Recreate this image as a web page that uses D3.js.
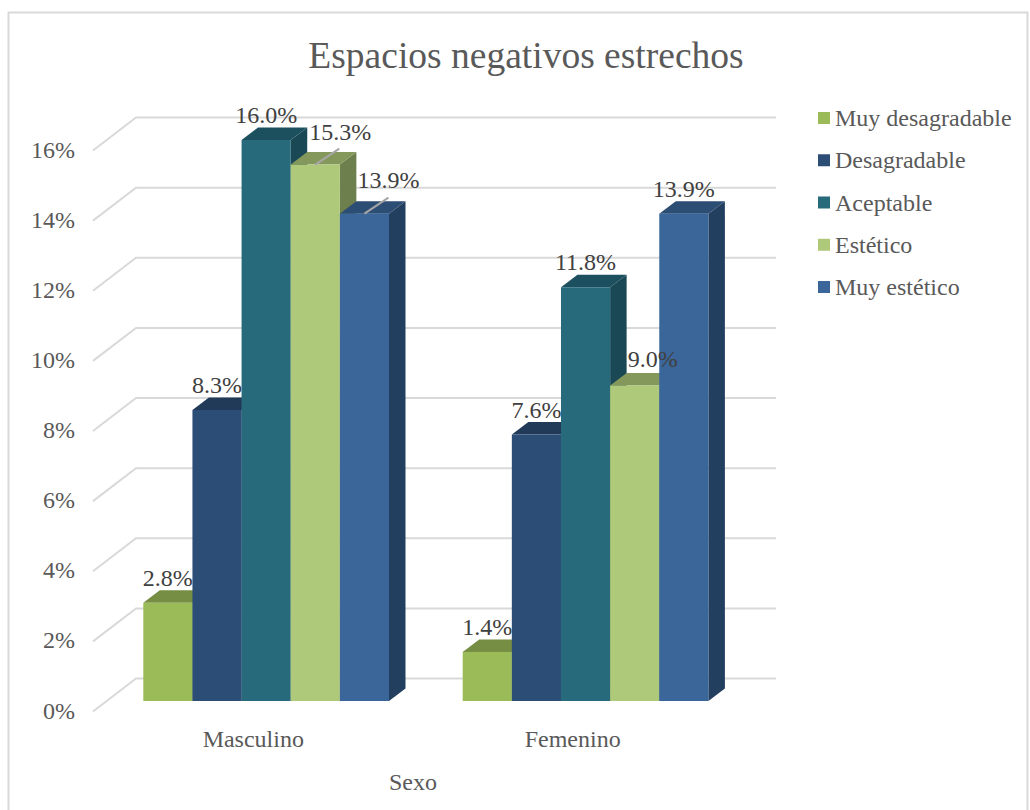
<!DOCTYPE html>
<html><head><meta charset="utf-8">
<script src="https://cdn.jsdelivr.net/npm/d3@7/dist/d3.min.js"></script>
<style>html,body{margin:0;padding:0;background:#fff}svg{display:block}text{font-family:"Liberation Serif",serif}</style>
</head><body><svg id="c" width="1030" height="810"></svg>
<script>
const title = "Espacios negativos estrechos";
const axisTitle = "Sexo";
const categories = ["Masculino","Femenino"];
const seriesNames = ["Muy desagradable","Desagradable","Aceptable","Estético","Muy estético"];
const masculino = [2.8,8.3,16.0,15.3,13.9];
const femenino = [1.4,7.6,11.8,9.0,13.9];
const tickValues = [0,2,4,6,8,10,12,14,16];
const frontColors = ["#9bbb59","#2c4d75","#276a7c","#afc97a","#3a6699"];
const topColors = ["#768e43","#213a58","#1d505e","#85985c","#2c4d74"];
const sideColors = ["#6a803c","#1e3550","#1a4955","#6e7f4e","#233f60"];

const svg = d3.select("#c");
svg.append("path").attr("d","M8.5 810V12.5H1027.5V810").attr("fill","none").attr("stroke","#d9d9d9").attr("stroke-width",2);

const y = d3.scaleLinear().domain([0,16]).range([701,140]);
const wallY = v => y(v) - 22.5;       // back wall line height
const groupStart = {Masculino:143.3, Femenino:462.7};
const x = d3.scaleBand().domain(seriesNames).range([0,245.7]);
const bw = x.bandwidth(), dx = 16.5, dy = 12.5;

// gridlines
const grid = svg.append("g").attr("fill","none").attr("stroke","#d9d9d9").attr("stroke-width",2);
tickValues.forEach(v=>{
  const yb = wallY(v);
  grid.append("path").attr("d",`M93 ${yb+33}L136 ${yb}H776`);
});
// tick labels
svg.append("g").selectAll("text").data(tickValues).join("text")
  .attr("x",75).attr("y",v=>wallY(v)+33+7).attr("text-anchor","end")
  .attr("font-size",24).attr("fill","#595959").text(v=>v+"%");

// bars
const labelAdjust = {"Masculino|3":[25,-8],"Masculino|4":[24,-9],"Femenino|3":[18,-1]};
const leaders = {"Masculino|3":1,"Masculino|4":1};
const labelLayer = [];
categories.forEach((c,ci)=>{
  const vals = ci===0?masculino:femenino;
  const g = svg.append("g");
  seriesNames.forEach((s,i)=>{
    const x0 = groupStart[c]+x(s), x1=x0+bw, yt=y(vals[i]), yb=y(0);
    g.append("path").attr("fill",sideColors[i]).attr("d",`M${x1} ${yt}L${x1+dx} ${yt-dy}V${yb-dy}L${x1} ${yb}Z`);
    g.append("path").attr("fill",topColors[i]).attr("d",`M${x0} ${yt}L${x0+dx} ${yt-dy}H${x1+dx}L${x1} ${yt}Z`);
    g.append("rect").attr("x",x0).attr("y",yt).attr("width",bw).attr("height",yb-yt).attr("fill",frontColors[i]);
    const key=c+"|"+i, a=labelAdjust[key]||[0,0];
    labelLayer.push({x:x0+bw/2+a[0],y:yt-17+a[1],t:vals[i].toFixed(1)+"%",cx:x0+bw/2,yt,lead:!!leaders[key]});
  });
});
// leader lines & labels
svg.append("g").attr("stroke","#a6a6a6").attr("stroke-width",2).selectAll("line")
  .data(labelLayer.filter(d=>d.lead)).join("line")
  .attr("x1",d=>d.cx).attr("y1",d=>d.yt).attr("x2",d=>d.cx+24).attr("y2",d=>d.yt-16);
svg.append("g").selectAll("text").data(labelLayer).join("text")
  .attr("x",d=>d.x).attr("y",d=>d.y).attr("text-anchor","middle")
  .attr("font-size",24).attr("fill","#404040").text(d=>d.t);

// category labels
svg.append("g").selectAll("text").data(categories).join("text")
  .attr("x",c=>groupStart[c]+110).attr("y",747).attr("text-anchor","middle")
  .attr("font-size",24).attr("fill","#595959").text(c=>c);
svg.append("text").attr("x",413).attr("y",790).attr("text-anchor","middle").attr("font-size",24).attr("fill","#595959").text(axisTitle);
svg.append("text").attr("x",526).attr("y",68).attr("text-anchor","middle").attr("font-size",37.5).attr("fill","#595959").text(title);

// legend
const ly = d3.scalePoint().domain(seriesNames).range([118,287]);
const lg = svg.append("g").selectAll("g").data(seriesNames).join("g");
lg.append("rect").attr("x",818).attr("y",s=>ly(s)-6).attr("width",12).attr("height",12).attr("fill",(s,i)=>frontColors[i]);
lg.append("text").attr("x",835).attr("y",s=>ly(s)+8).attr("font-size",24).attr("fill","#595959").text(s=>s);
</script></body></html>
